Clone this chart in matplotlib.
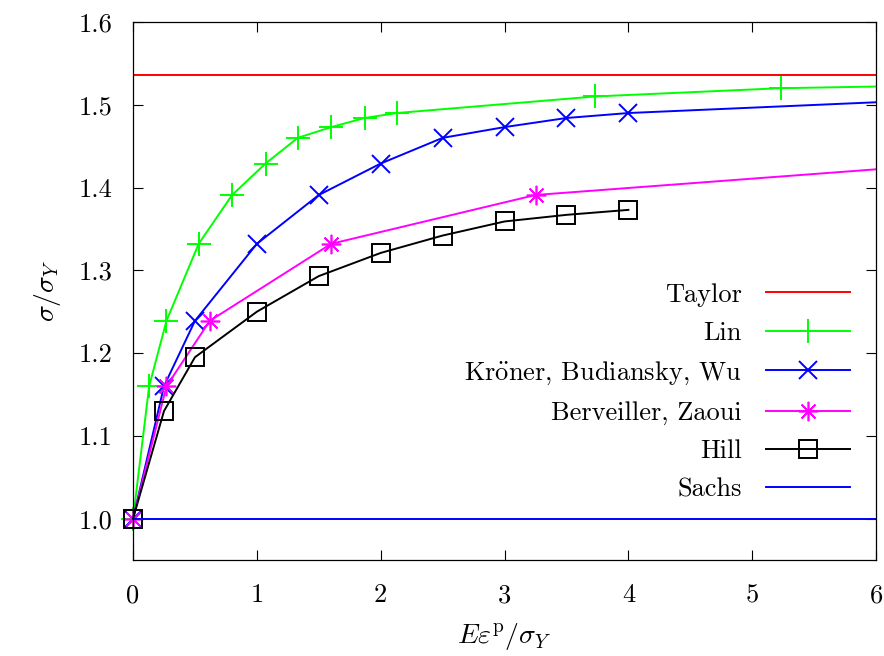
import numpy as np
import matplotlib
matplotlib.use("Agg")
import matplotlib.pyplot as plt

# Datos
taylor = 1.536
sachs = 1.0

lin_x = [0, 0.13, 0.27, 0.53, 0.80, 1.07, 1.33, 1.60, 1.87, 2.13, 3.73, 5.23, 6.0]
lin_y = [1.0, 1.16, 1.239, 1.332, 1.391, 1.429, 1.46, 1.473, 1.484, 1.49, 1.51, 1.52, 1.522]

kbw_x = [0, 0.25, 0.5, 1.0, 1.5, 2.0, 2.5, 3.0, 3.5, 4.0, 6.0]
kbw_y = [1.0, 1.16, 1.239, 1.332, 1.391, 1.429, 1.46, 1.473, 1.484, 1.49, 1.503]

bz_x = [0, 0.27, 0.62, 1.6, 3.25, 6.0]
bz_y = [1.0, 1.16, 1.239, 1.332, 1.391, 1.422]

hill_x = [0, 0.25, 0.5, 1.0, 1.5, 2.0, 2.5, 3.0, 3.5, 4.0]
hill_y = [1.0, 1.13, 1.195, 1.25, 1.293, 1.321, 1.342, 1.359, 1.367, 1.373]

xticks = [0, 1, 2, 3, 4, 5, 6]
yticks = [1.0, 1.1, 1.2, 1.3, 1.4, 1.5, 1.6]

plt.rcParams['font.family'] = ['cmr10', 'DejaVu Serif']
plt.rcParams['mathtext.fontset'] = 'cm'
plt.rcParams['axes.formatter.use_mathtext'] = True
fs = 19

fig = plt.figure(figsize=(8.84, 6.56), dpi=100)
ax = fig.add_axes([0.1505, 0.1463, 0.8405, 0.8202])

lw = 1.4
ax.axhline(taylor, color='#ff0000', lw=lw, label='Taylor')
ax.plot(lin_x, lin_y, color='#00ff00', lw=lw, marker='+', ms=17, mew=1.4,
        markevery=list(range(len(lin_x) - 1)), clip_on=False, label='Lin')
ax.plot(kbw_x, kbw_y, color='#0000ff', lw=lw, marker='x', ms=12.5, mew=1.4,
        markevery=list(range(len(kbw_x) - 1)), clip_on=False,
        label=r'Kr$\ddot{\mathrm{o}}$ner, Budiansky, Wu')
ax.plot(bz_x, bz_y, color='#ff00ff', lw=lw, marker=(8, 2, 0), ms=14, mew=1.2,
        markevery=list(range(len(bz_x) - 1)), clip_on=False,
        label='Berveiller, Zaoui')
ax.plot(hill_x, hill_y, color='black', lw=lw, marker='s', ms=13, mew=1.4,
        mfc='none', clip_on=False, label='Hill')
ax.axhline(sachs, color='#0000ff', lw=lw, label='Sachs')

ax.set_xlim(0, 6)
ax.set_ylim(0.95, 1.6)
ax.set_xticks(xticks)
ax.set_yticks(yticks)
ax.set_xticklabels([str(t) for t in xticks], fontsize=fs)
ax.set_yticklabels(['%.1f' % t for t in yticks], fontsize=fs)
ax.tick_params(direction='in', length=7, width=0.8, top=True, right=True)
ax.tick_params(axis='x', pad=17)
ax.tick_params(axis='y', pad=15)
for s in ax.spines.values():
    s.set_linewidth(0.9)

ax.set_xlabel(r'$E\varepsilon^{\mathrm{p}}/\sigma_Y$', fontsize=fs + 1, labelpad=10)
ax.set_ylabel(r'$\sigma/\sigma_Y$', fontsize=fs + 1, labelpad=11)

# con markerfirst=False las filas quedan alineadas a la derecha
leg = ax.legend(loc='upper right', bbox_to_anchor=(0.965, 0.515), frameon=False,
                markerfirst=False, fontsize=fs, handlelength=3.2,
                handletextpad=0.9, labelspacing=0.55, borderpad=0,
                borderaxespad=0)

fig.savefig('out.png', dpi=100)
